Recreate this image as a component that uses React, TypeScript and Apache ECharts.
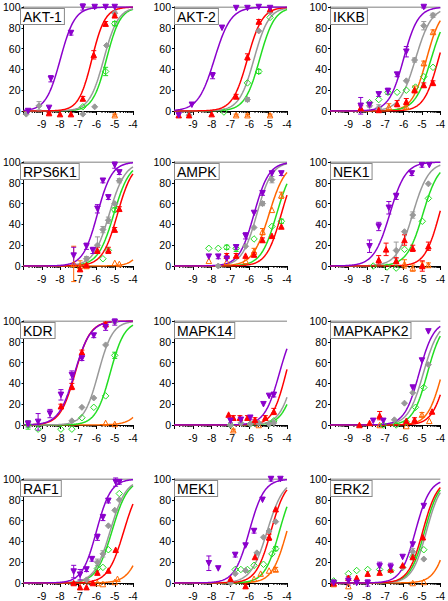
import React, { useEffect, useRef } from "react";
import * as echarts from "echarts";

// ---------- data ----------
const PANEL_NAMES = ["AKT-1", "AKT-2", "IKKB", "RPS6K1", "AMPK", "NEK1", "KDR", "MAPK14", "MAPKAPK2", "RAF1", "MEK1", "ERK2"];
// series order: purple, red, gray, green (open), orange (open)
const SERIES_COLORS = ["#8B00CC", "#FF0000", "#999999", "#22DD22", "#FF6600"];
const X_TICKS = [-9, -8, -7, -6, -5, -4];
const Y_TICKS = [0, 20, 40, 60, 80, 100];

// fitted curves: [logEC50, hill] per series, null = no curve
const AKT1_CURVES = [[-7.98, 1.1], [-6.25, 1.2], [-5.6, 1.1], [-5.45, 1.15], null];
const AKT2_CURVES = [[-7.85, 1.0], [-6.1, 1.1], [-5.75, 1.1], [-5.45, 1.1], null];
const IKKB_CURVES = [[-6.0, 1.1], [-4.1, 1.1], [-5.35, 1.0], [-4.5, 1.0], [-4.75, 1.1]];
const RPS6K1_CURVES = [[-5.95, 1.1], [-4.85, 1.05], [-5.3, 1.0], [-5.05, 1.0], [-3.0, 1.2]];
const AMPK_CURVES = [[-5.75, 1.1], [-4.3, 1.1], [-5.6, 1.1], [-4.55, 1.05], [-4.95, 1.0]];
const NEK1_CURVES = [[-6.75, 1.0], [-4.05, 1.1], [-5.5, 1.0], [-4.95, 1.0], null];
const KDR_CURVES = [[-7.2, 1.0], [-7.17, 1.05], [-5.9, 1.1], [-5.25, 1.1], [-2.9, 1.0]];
const MAPK14_CURVES = [[-4.4, 1.1], [-4.05, 1.2], [-3.6, 1.1], [-3.45, 1.1], null];
const MAPKAPK2_CURVES = [[-5.15, 1.1], [-3.65, 1.1], [-4.92, 1.05], [-4.7, 1.1], [-3.9, 1.1]];
const RAF1_CURVES = [[-6.0, 1.1], [-4.5, 1.0], [-5.25, 1.0], [-5.15, 1.0], [-3.3, 1.0]];
const MEK1_CURVES = [[-6.0, 1.1], [-4.85, 1.1], [-5.05, 1.0], [-4.4, 1.1], [-4.0, 1.1]];
const ERK2_CURVES = [[-5.35, 1.1], [-4.95, 1.1], [-4.75, 1.1], [-4.85, 1.1], [-3.5, 1.1]];

// measured points: [log conc, % , error] per series
const AKT1_POINTS = [
  [[-9.75, 0, 0], [-8.6, 3, 0], [-8.5, 31, 3], [-7.4, 75, 2], [-6.75, 100, 3], [-6.1, 100, 1], [-5.5, 100, 0], [-5.0, 100, 0]],
  [[-8.6, -2, 1], [-8.0, -3, 0], [-7.4, -3, 0], [-6.75, 12, 2], [-6.15, 54, 4], [-5.5, 84, 2], [-5.0, 92, 2]],
  [[-9.85, -3, 0], [-9.15, 5, 4], [-6.75, -3, 0], [-6.1, 4, 0], [-5.45, 63, 0], [-5.0, 94, 2]],
  [[-6.75, 4, 0], [-5.5, 38, 4], [-5.0, 84, 2]],
  [[-5.0, -4, 1]],
];
const AKT2_POINTS = [
  [[-9.75, -4, 0], [-9.05, 6, 0], [-7.95, 34, 3], [-7.45, 80, 0], [-6.7, 99, 0], [-6.1, 99, 0], [-5.5, 100, 0], [-4.9, 99, 0]],
  [[-9.75, -4, 0], [-9.2, -4, 0], [-8.0, -3, 0], [-6.7, 14, 2], [-6.1, 52, 3], [-5.5, 86, 2], [-4.9, 98, 0]],
  [[-9.2, -4, 0], [-6.1, 11, 2], [-5.5, 77, 0], [-4.9, 95, 0]],
  [[-7.35, -1, 0], [-6.1, 27, 0], [-5.5, 38, 2], [-4.9, 90, 0]],
  [[-6.7, -4, 1], [-6.1, -4, 1], [-4.9, -4, 1]],
];
const IKKB_POINTS = [
  [[-8.33, 5, 8], [-7.85, 6, 2], [-7.35, 16, 2], [-6.85, 19, 3], [-6.35, 35, 2], [-5.85, 57, 5], [-4.9, 100, 1]],
  [[-8.33, 3, 2], [-7.35, 1, 0], [-6.35, 7, 3], [-5.85, 9, 3], [-5.4, 20, 0], [-4.9, 25, 2], [-4.4, 27, 2]],
  [[-7.85, 5, 0], [-7.35, 3, 3], [-5.85, 29, 0], [-5.4, 49, 2], [-4.9, 82, 4], [-4.4, 92, 2]],
  [[-7.85, 8, 0], [-7.35, 11, 0], [-6.85, 18, 0], [-6.35, 18, 0], [-5.85, 20, 0], [-5.35, 23, 0], [-4.9, 33, 0], [-4.4, 42, 0]],
  [[-6.8, 4, 3], [-5.85, 4, 2], [-5.4, 21, 3], [-4.9, 46, 2], [-4.4, 76, 2]],
];
const RPS6K1_POINTS = [
  [[-7.25, 10, 8], [-6.55, 19, 3], [-6.2, 15, 3], [-5.95, 55, 4], [-5.65, 82, 2], [-5.35, 66, 2], [-5.0, 97, 3], [-4.75, 90, 2]],
  [[-6.9, -3, 0], [-6.55, 1, 0], [-5.95, 15, 3], [-5.35, 15, 3], [-5.0, 35, 2], [-4.75, 55, 2]],
  [[-6.55, 7, 2], [-5.95, 20, 8], [-5.65, 35, 3], [-5.35, 44, 3], [-5.0, 60, 0], [-4.75, 82, 2]],
  [[-5.65, 7, 0], [-5.35, 15, 0], [-5.0, 54, 2]],
  [[-7.25, 2, 17], [-6.9, 0, 5], [-6.55, 0, 2], [-5.0, 3, 0], [-4.75, 2, 0]],
];
const AMPK_POINTS = [
  [[-8.15, 9, 0], [-7.65, 9, 2], [-7.2, 7, 0], [-6.7, 18, 2], [-6.2, 29, 3], [-5.75, 51, 0], [-5.3, 70, 2], [-4.8, 89, 0], [-4.3, 89, 2]],
  [[-7.2, 10, 2], [-6.7, 10, 2], [-6.2, 10, 0], [-5.75, 11, 2], [-5.3, 25, 2], [-4.8, 29, 0], [-4.3, 38, 0]],
  [[-7.65, 0, 0], [-6.2, 19, 0], [-5.75, 37, 0], [-5.3, 60, 2], [-4.8, 83, 3]],
  [[-8.15, 17, 0], [-7.65, 17, 0], [-7.2, 18, 2], [-6.7, 17, 3], [-5.75, 26, 0], [-4.8, 38, 0], [-4.3, 43, 2]],
  [[-8.15, 5, 0], [-7.2, 4, 0], [-6.2, 5, 0], [-5.75, 14, 3], [-5.3, 33, 3], [-4.8, 54, 0], [-4.3, 68, 3]],
];
const NEK1_POINTS = [
  [[-7.85, 19, 6], [-7.35, 38, 4], [-6.8, 56, 6], [-6.4, 67, 3], [-5.55, 89, 2], [-5.0, 97, 2], [-4.6, 97, 0]],
  [[-7.35, 6, 4], [-6.95, 16, 6], [-6.4, 5, 3], [-5.95, 25, 5], [-5.5, 17, 3], [-4.98, 0, 5], [-4.65, 19, 4]],
  [[-6.4, 15, 8], [-5.95, 33, 0], [-5.5, 49, 3], [-4.65, 79, 0]],
  [[-7.65, 0, 0], [-6.9, -1, 0], [-6.4, -2, 0], [-5.95, 16, 0], [-4.98, 43, 0], [-4.65, 65, 0]],
  [[-5.95, 2, 4], [-5.5, -2, 3], [-4.98, 1, 3], [-4.65, 1, 2]],
];
const KDR_POINTS = [
  [[-9.75, 1, 3], [-9.2, 3, 8], [-8.55, 11, 4], [-7.95, 29, 5], [-7.35, 48, 4], [-6.8, 64, 2], [-6.15, 86, 2], [-5.5, 94, 3], [-5.0, 99, 3]],
  [[-7.95, 18, 2], [-7.35, 37, 3], [-6.8, 70, 2], [-5.5, 97, 2]],
  [[-7.35, 4, 0], [-6.8, 17, 0], [-6.15, 26, 0], [-5.5, 77, 0], [-5.0, 99, 0]],
  [[-9.75, 0, 4], [-9.2, -4, 0], [-7.95, -4, 0], [-7.35, -4, 0], [-6.8, 7, 0], [-6.15, 17, 0], [-5.5, 28, 0], [-5.0, 67, 3]],
  [[-5.5, 2, 0], [-5.0, 1, 0]],
];
const MAPK14_POINTS = [
  [[-7.0, 4, 2], [-6.45, 5, 0], [-5.95, 7, 2], [-5.25, 20, 0], [-4.95, 28, 0], [-4.7, 29, 2]],
  [[-7.1, 10, 0], [-6.85, 7, 2], [-6.5, 7, 2], [-6.1, 7, 2], [-5.7, 5, 2], [-5.15, 7, 2], [-4.7, 13, 3]],
  [[-7.0, 0, 0], [-6.45, 2, 0], [-5.95, 1, 0], [-5.5, 2, 0], [-4.95, 1, 0], [-4.7, 2, 0]],
  [[-7.0, 0, 0], [-5.95, 1, 0], [-4.95, 1, 0], [-4.7, 4, 0]],
  [[-6.85, -5, 1], [-5.5, 0, 0]],
];
const MAPKAPK2_POINTS = [
  [[-7.65, 4, 0], [-7.1, 4, 0], [-5.5, 36, 0], [-5.0, 62, 0], [-4.65, 90, 0]],
  [[-8.4, 0, 0], [-7.85, 2, 0], [-7.3, 9, 4], [-5.85, 4, 0], [-5.4, 5, 2], [-4.45, 13, 0]],
  [[-6.5, 5, 0], [-5.95, 21, 0], [-5.5, 31, 0], [-4.65, 58, 0]],
  [[-7.1, 0, 0], [-6.4, 0, 0], [-5.85, 3, 0], [-5.35, 17, 0], [-4.9, 36, 0]],
  [[-7.3, 0, 0], [-5.85, -1, 0], [-5.0, 10, 2], [-4.6, 4, 0]],
];
const RAF1_POINTS = [
  [[-7.25, 11, 6], [-6.9, 8, 5], [-6.55, 13, 2], [-6.25, 23, 2], [-5.95, 44, 3], [-5.65, 63, 3], [-5.35, 79, 2], [-4.95, 97, 4], [-4.75, 97, 2]],
  [[-7.25, 0, 0], [-6.9, -4, 0], [-6.55, -4, 0], [-6.2, 0, 0], [-5.95, 10, 0], [-5.35, 12, 0], [-4.95, 32, 0]],
  [[-6.55, 3, 0], [-5.95, 20, 3], [-5.65, 28, 3], [-5.35, 55, 0], [-5.0, 70, 0], [-4.75, 80, 0]],
  [[-5.95, 14, 0], [-5.65, 15, 0], [-5.35, 32, 0], [-4.75, 86, 0]],
  [[-5.95, 0, 0], [-5.65, -1, 0], [-5.0, 1, 0], [-4.85, 4, 0]],
];
const MEK1_POINTS = [
  [[-8.15, 19, 7], [-7.65, 14, 0], [-6.75, 27, 2], [-6.2, 36, 0], [-5.75, 50, 2], [-5.3, 80, 0], [-4.85, 100, 2], [-4.35, 100, 1]],
  [[-7.0, 4, 0], [-6.2, -3, 2], [-5.7, 25, 0], [-4.95, 44, 3], [-4.6, 71, 0]],
  [[-7.0, 0, 0], [-6.75, 9, 0], [-6.2, 12, 0], [-5.6, 29, 0], [-5.25, 44, 0], [-4.95, 50, 0], [-4.6, 59, 0]],
  [[-6.75, 13, 0], [-6.45, 13, 0], [-6.1, 13, 0], [-5.75, 17, 0], [-5.25, 18, 0], [-4.8, 28, 0], [-4.6, 33, 2]],
  [[-5.75, 4, 0], [-5.4, 9, 0], [-4.95, 12, 0], [-4.6, 13, 2]],
];
const ERK2_POINTS = [
  [[-9.8, 0, 3], [-9.0, 2, 4], [-8.55, 0, 0], [-7.95, 0, 3], [-7.3, 16, 4], [-6.7, 15, 4], [-6.05, 25, 0], [-5.5, 37, 0], [-4.9, 74, 0]],
  [[-9.8, 0, 0], [-9.0, 5, 0], [-8.55, 5, 0], [-7.95, 9, 0], [-7.3, 10, 0], [-6.7, 13, 0], [-6.05, 17, 0], [-5.5, 25, 0], [-4.95, 44, 0]],
  [[-6.05, 15, 0], [-5.5, 30, 3], [-4.9, 23, 0]],
  [[-9.8, 2, 0], [-9.0, 9, 0], [-8.55, 12, 0], [-7.95, 13, 0], [-7.3, 13, 0], [-6.7, 12, 0], [-6.05, 15, 0], [-5.5, 25, 0], [-4.9, 32, 0]],
  [[-9.8, -1, 0], [-9.0, -3, 0], [-5.5, 0, 0], [-4.9, 1, 0]],
];

const ALL_CURVES = [AKT1_CURVES, AKT2_CURVES, IKKB_CURVES, RPS6K1_CURVES, AMPK_CURVES, NEK1_CURVES, KDR_CURVES, MAPK14_CURVES, MAPKAPK2_CURVES, RAF1_CURVES, MEK1_CURVES, ERK2_CURVES];
const ALL_POINTS = [AKT1_POINTS, AKT2_POINTS, IKKB_POINTS, RPS6K1_POINTS, AMPK_POINTS, NEK1_POINTS, KDR_POINTS, MAPK14_POINTS, MAPKAPK2_POINTS, RAF1_POINTS, MEK1_POINTS, ERK2_POINTS];

// ---------- layout ----------
const GRID_LEFTS = [20, 174, 330];
const GRID_TOPS = [7, 162, 321, 479];
const GRID_W = 113;
const GRID_H = 104;
const FONT = '"Liberation Sans", Arial, sans-serif';

const SYMBOLS = [
  { symbol: "triangle", rotate: 180, size: 5.5, fill: SERIES_COLORS[0], stroke: SERIES_COLORS[0] },
  { symbol: "triangle", rotate: 0, size: 5.5, fill: SERIES_COLORS[1], stroke: SERIES_COLORS[1] },
  { symbol: "diamond", rotate: 0, size: 6, fill: SERIES_COLORS[2], stroke: SERIES_COLORS[2] },
  { symbol: "diamond", rotate: 0, size: 6.5, fill: "rgba(255,255,255,0)", stroke: SERIES_COLORS[3] },
  { symbol: "triangle", rotate: 0, size: 5.5, fill: "rgba(255,255,255,0)", stroke: SERIES_COLORS[4] },
];

function curveData(p: number[]) {
  const out: number[][] = [];
  for (let i = 0; i <= 150; i++) {
    const x = -10 + i * 0.04;
    out.push([x, 100 / (1 + Math.pow(10, (p[0] - x) * p[1]))]);
  }
  return out;
}

function minorTickData() {
  const out: number[][] = [];
  for (let d = -10; d < -4; d++) for (let k = 2; k <= 9; k++) out.push([d + Math.log10(k), 0]);
  return out;
}

function buildOption() {
  const grid: any[] = [], xAxis: any[] = [], yAxis: any[] = [], series: any[] = [], graphic: any[] = [];
  const drawOrder = [4, 3, 2, 1, 0];
  PANEL_NAMES.forEach((name, i) => {
    const left = GRID_LEFTS[i % 3];
    const top = GRID_TOPS[Math.floor(i / 3)];
    grid.push({ left, top, width: GRID_W, height: GRID_H, containLabel: false });
    xAxis.push({
      type: "value", gridIndex: i, min: -10, max: -4, interval: 1,
      axisLine: { show: true, onZero: false, lineStyle: { color: "#000", width: 1 } },
      axisTick: { show: true, length: 4, lineStyle: { color: "#000" } },
      axisLabel: { fontSize: 10.5, color: "#000", fontFamily: FONT, margin: 7, formatter: (v: number) => (X_TICKS.includes(v) ? String(v) : "") },
      splitLine: { show: false },
    });
    yAxis.push({
      type: "value", gridIndex: i, min: 0, max: 100, interval: 20,
      axisLine: { show: true, lineStyle: { color: "#000", width: 1 } },
      axisTick: { show: true, length: 2, lineStyle: { color: "#000" } },
      axisLabel: { fontSize: 10.5, color: "#000", fontFamily: FONT, margin: 3, formatter: (v: number) => (Y_TICKS.includes(v) ? String(v) : "") },
      splitLine: { show: false },
    });
    // 100% reference line
    series.push({
      type: "line", xAxisIndex: i, yAxisIndex: i, data: [[-10, 100], [-4, 100]], symbol: "none", silent: true,
      lineStyle: { color: "#555", width: 1 }, z: 1,
    });
    // log minor ticks
    series.push({
      type: "custom", xAxisIndex: i, yAxisIndex: i, data: minorTickData(), silent: true, clip: false,
      renderItem: (_p: any, api: any) => {
        const c = api.coord([api.value(0), 0]);
        return { type: "line", shape: { x1: c[0], y1: c[1], x2: c[0], y2: c[1] + 2 }, style: { stroke: "#000", lineWidth: 1 } };
      },
    });
    const curves = ALL_CURVES[i];
    const pts = ALL_POINTS[i];
    drawOrder.forEach((s) => {
      const cp = curves[s];
      if (cp) {
        series.push({
          type: "line", xAxisIndex: i, yAxisIndex: i, data: curveData(cp as number[]), symbol: "none", silent: true,
          lineStyle: { color: SERIES_COLORS[s], width: 1.5 }, z: 2,
        });
      }
    });
    drawOrder.forEach((s) => {
      const color = SERIES_COLORS[s];
      series.push({
        type: "custom", xAxisIndex: i, yAxisIndex: i, data: pts[s].filter((d) => d[2] > 0), silent: true, clip: false, z: 3,
        renderItem: (_p: any, api: any) => {
          const x = api.value(0), y = api.value(1), e = api.value(2);
          const a = api.coord([x, y + e]);
          const b = api.coord([x, y - e]);
          const st = { stroke: color, lineWidth: 1 };
          return {
            type: "group",
            children: [
              { type: "line", shape: { x1: a[0], y1: a[1], x2: b[0], y2: b[1] }, style: st },
              { type: "line", shape: { x1: a[0] - 2.5, y1: a[1], x2: a[0] + 2.5, y2: a[1] }, style: st },
              { type: "line", shape: { x1: b[0] - 2.5, y1: b[1], x2: b[0] + 2.5, y2: b[1] }, style: st },
            ],
          };
        },
      });
      const sym = SYMBOLS[s];
      series.push({
        type: "scatter", xAxisIndex: i, yAxisIndex: i, data: pts[s].map((d) => [d[0], d[1]]), clip: false, silent: true, z: 4,
        symbol: sym.symbol, symbolRotate: sym.rotate, symbolSize: sym.size,
        itemStyle: { color: sym.fill, borderColor: sym.stroke, borderWidth: 1, opacity: 1 },
      });
    });
    graphic.push({
      type: "text", left: left, top: top + 1, z: 100, silent: true,
      style: {
        text: name, font: `14px ${FONT}`, fill: "#000", backgroundColor: "#fff",
        borderColor: "#888", borderWidth: 1, padding: [1, 2, 0, 2],
      },
    });
  });
  return { animation: false, backgroundColor: "#fff", grid, xAxis, yAxis, series, graphic };
}

export default function App() {
  const ref = useRef<HTMLDivElement>(null);
  useEffect(() => {
    if (!ref.current) return;
    const chart = echarts.init(ref.current, undefined, { renderer: "svg" });
    chart.setOption(buildOption() as any);
    return () => chart.dispose();
  }, []);
  return <div ref={ref} style={{ position: "absolute", left: 0, top: 0, width: 448, height: 601, background: "#fff" }} />;
}
